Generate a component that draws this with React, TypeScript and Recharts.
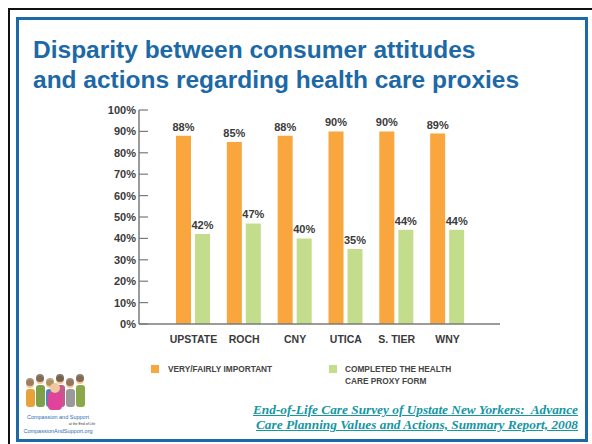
import { BarChart, Bar, XAxis, YAxis, LabelList } from 'recharts';

const regions = ['UPSTATE', 'ROCH', 'CNY', 'UTICA', 'S. TIER', 'WNY'];
const important = [88, 85, 88, 90, 90, 89];
const completed = [42, 47, 40, 35, 44, 44];
const yTicks = [0, 10, 20, 30, 40, 50, 60, 70, 80, 90, 100];

const series = [
  { key: 'important', name: ['VERY/FAIRLY IMPORTANT'], color: '#F8A63D' },
  { key: 'completed', name: ['COMPLETED THE HEALTH', 'CARE PROXY FORM'], color: '#C4DD8D' },
];

const data = regions.map((region, i) => ({
  region,
  important: important[i],
  completed: completed[i],
}));

const FONT = '"Liberation Sans", Arial, sans-serif';
const TEXT = '#3a3a3a';
const AXIS = '#7a7a7a';
const Y_TICK_MARGIN = 3;

const YTick = (props: any) => {
  const { x, y, payload } = props;
  const axisX = x + Y_TICK_MARGIN;
  return (
    <g>
      <text x={x} y={y} dy="0.36em" textAnchor="end" fontSize={11} fontWeight="bold" fill={TEXT} fontFamily={FONT}>
        {payload.value}%
      </text>
      <line x1={axisX} x2={axisX + 9} y1={y} y2={y} stroke={AXIS} strokeWidth={1.2} />
    </g>
  );
};

function Logo() {
  const people = [
    { x: 6, c: '#e8a23a', h: '#6b4a2a' },
    { x: 16, c: '#7fa04a', h: '#3a2a1a' },
    { x: 26, c: '#5a7fb8', h: '#8a6a3a' },
    { x: 36, c: '#c45a8a', h: '#2a1a10' },
    { x: 46, c: '#9a9a9a', h: '#5a3a2a' },
    { x: 56, c: '#8aa84a', h: '#3a2a1a' },
  ];
  return (
    <svg width={76} height={70} style={{ position: 'absolute', left: 20, top: 370 }}>
      {people.map((p, i) => (
        <g key={i}>
          <circle cx={p.x + 4} cy={i % 2 ? 10 : 14} r={4} fill="#f0c8a0" />
          <circle cx={p.x + 4} cy={i % 2 ? 8 : 12} r={4} fill={p.h} opacity={0.6} />
          <rect x={p.x} y={i % 2 ? 15 : 19} width={9} height={i % 2 ? 22 : 18} rx={3} fill={p.c} />
        </g>
      ))}
      <rect x={28} y={22} width={14} height={18} rx={4} fill="#e0449a" />
      <circle cx={35} cy={18} r={5} fill="#f0c8a0" />
      <text x={38} y={49} textAnchor="middle" fontSize={5.5} fill="#2f6db5" fontFamily={FONT}>Compassion and Support</text>
      <text x={62} y={55} textAnchor="middle" fontSize={3.5} fill="#333" fontFamily={FONT}>at the End of Life</text>
      <text x={38} y={63} textAnchor="middle" fontSize={5.5} fill="#2f6db5" fontFamily={FONT}>CompassionAndSupport.org</text>
    </svg>
  );
}

export default function App() {
  return (
    <div style={{ position: 'absolute', left: 0, top: 0, width: 592, height: 444, overflow: 'hidden', background: '#fff', fontFamily: FONT }}>
      <div style={{ position: 'absolute', left: 8, top: 8, width: 600, height: 460, border: '2px solid #111' }} />
      <div style={{ position: 'absolute', left: 16, top: 17, width: 566, height: 419, border: '3px solid #1c69a6' }} />
      <div style={{ position: 'absolute', left: 33, top: 35, fontSize: 24.5, lineHeight: '30px', fontWeight: 'bold', color: '#1c69a6', whiteSpace: 'nowrap' }}>
        Disparity between consumer attitudes
        <br />
        and actions regarding health care proxies
      </div>
      <div style={{ position: 'absolute', left: 0, top: 0 }}>
        <BarChart
          width={592}
          height={444}
          data={data}
          margin={{ top: 110, right: 92, bottom: 90, left: 99 }}
          barSize={15}
          barGap={4}
        >
          <XAxis
            dataKey="region"
            height={30}
            padding={{ left: 29, right: 27 }}
            axisLine={{ stroke: AXIS, strokeWidth: 1.5 }}
            tickLine={false}
            tickMargin={6}
            tick={{ fontSize: 10.5, fontWeight: 'bold', fill: TEXT, fontFamily: FONT }}
          />
          <YAxis
            width={40}
            domain={[0, 100]}
            ticks={yTicks}
            interval={0}
            tickSize={0}
            tickMargin={Y_TICK_MARGIN}
            tickLine={false}
            axisLine={{ stroke: AXIS, strokeWidth: 1.5 }}
            tick={<YTick />}
          />
          {series.map((s) => (
            <Bar key={s.key} dataKey={s.key} fill={s.color} isAnimationActive={false}>
              <LabelList
                dataKey={s.key}
                position="top"
                offset={5}
                formatter={(v: any) => `${v}%`}
                style={{ fontSize: 11, fontWeight: 'bold', fill: TEXT, fontFamily: FONT }}
              />
            </Bar>
          ))}
        </BarChart>
      </div>
      {series.map((s, i) => (
        <div key={s.key} style={{ position: 'absolute', left: i === 0 ? 151 : 329, top: 364, display: 'flex', alignItems: 'flex-start' }}>
          <div style={{ width: 8, height: 8, background: s.color, marginTop: 1 }} />
          <div style={{ marginLeft: i === 0 ? 9 : 8, fontSize: 8.3, lineHeight: '12px', fontWeight: 'bold', color: '#444', marginTop: -1.5 }}>
            {s.name.map((line) => (
              <div key={line}>{line}</div>
            ))}
          </div>
        </div>
      ))}
      <Logo />
      <div
        style={{
          position: 'absolute',
          right: 14,
          top: 402,
          textAlign: 'right',
          fontFamily: '"Liberation Serif", "Times New Roman", serif',
          fontStyle: 'italic',
          fontWeight: 'bold',
          fontSize: 13.3,
          lineHeight: '15px',
          color: '#1596a3',
          textDecoration: 'underline',
          whiteSpace: 'nowrap',
        }}
      >
        End-of-Life Care Survey of Upstate New Yorkers:&nbsp; Advance
        <br />
        Care Planning Values and Actions, Summary Report, 2008
      </div>
    </div>
  );
}
